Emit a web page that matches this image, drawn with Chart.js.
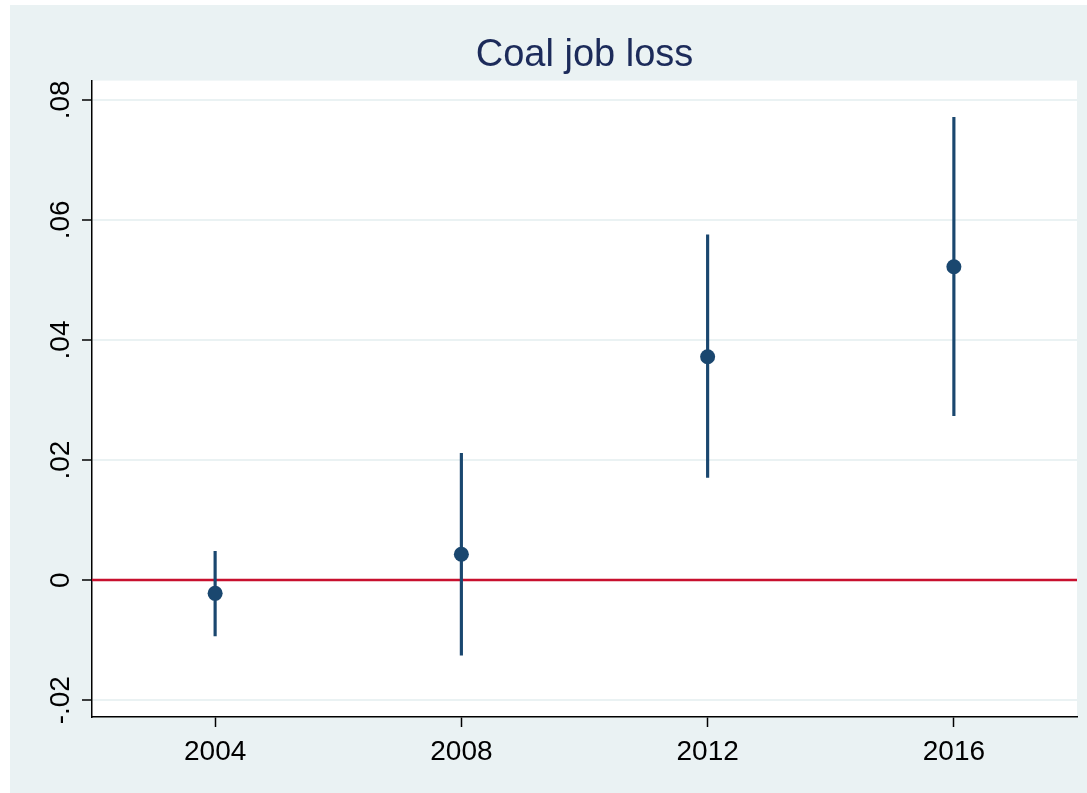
<!DOCTYPE html>
<html>
<head>
<meta charset="utf-8">
<script src="https://cdn.jsdelivr.net/npm/chart.js@4.4.1/dist/chart.umd.min.js"></script>
<style>
  html, body { margin: 0; padding: 0; background: #ffffff; }
  #frame {
    position: absolute; left: 10px; top: 5px;
    width: 1077px; height: 788px;
    background: #eaf2f3;
  }
</style>
</head>
<body>
<div id="frame"><canvas id="coefChart" width="1077" height="788"></canvas></div>
<script>
// coefficient estimates by election year, with 95% confidence bounds
var years = [2004, 2008, 2012, 2016];
var coef = [-0.0022, 0.0043, 0.0372, 0.0522];
var ciLow = [-0.0093, -0.0125, 0.0171, 0.0274];
var ciHigh = [0.0048, 0.0211, 0.0575, 0.0771];
var yTicks = [-0.02, 0, 0.02, 0.04, 0.06, 0.08];

var navy = '#1a476f';

// white plot region behind the grid
var plotBg = {
  id: 'plotBg',
  beforeDraw: function(chart) {
    var a = chart.chartArea, c = chart.ctx;
    c.save();
    c.fillStyle = '#ffffff';
    c.fillRect(a.left, a.top, a.right - a.left, a.bottom - a.top);
    c.restore();
  }
};

function fmt(v) {
  if (Math.abs(v) < 1e-9) return '0';
  var s = v.toFixed(2).replace(/0+$/, '');
  return s.replace('0.', '.');
}

var points = [], bars = [];
for (var i = 0; i < years.length; i++) {
  points.push({ x: years[i], y: coef[i] });
  bars.push({ x: years[i], y: [ciLow[i], ciHigh[i]] });
}

var ctx = document.getElementById('coefChart').getContext('2d');
new Chart(ctx, {
  type: 'scatter',
  data: {
    datasets: [{
      type: 'line',
      data: [{ x: 2002, y: 0 }, { x: 2018, y: 0 }],
      borderColor: '#c8102e',
      borderWidth: 2.5,
      pointRadius: 0,
      order: 3
    }, {
      type: 'bar',
      data: bars,
      backgroundColor: navy,
      borderWidth: 0,
      barThickness: 2.5,
      order: 2
    }, {
      type: 'scatter',
      data: points,
      backgroundColor: navy,
      borderColor: navy,
      pointRadius: 7.5,
      borderWidth: 0,
      order: 1
    }]
  },
  options: {
    responsive: false,
    animation: false,
    layout: { padding: { left: 0, right: 10, top: 0, bottom: 0 } },
    scales: {
      x: {
        type: 'linear',
        min: 2002,
        max: 2018,
        offset: false,
        afterBuildTicks: function(s) { s.ticks = years.map(function(v) { return { value: v }; }); },
        afterFit: function(s) { s.height = 76; },
        grid: { offset: false, drawOnChartArea: false, tickColor: '#000', tickLength: 10, tickWidth: 1.5 },
        border: { color: '#000', width: 1.5 },
        ticks: {
          color: '#000',
          padding: 8,
          font: { family: 'Liberation Sans, Arial, sans-serif', size: 28 },
          callback: function(v) { return String(v); }
        }
      },
      y: {
        min: -0.0228,
        max: 0.0832,
        afterBuildTicks: function(s) { s.ticks = yTicks.map(function(v) { return { value: v }; }); },
        afterFit: function(s) { s.width = 82; },
        grid: { color: '#eaf2f3', lineWidth: 2, tickColor: '#000', tickLength: 10, tickWidth: 1.5 },
        border: { color: '#000', width: 1.5 },
        ticks: {
          color: '#000',
          minRotation: 90,
          maxRotation: 90,
          crossAlign: 'center',
          padding: -3,
          font: { family: 'Liberation Sans, Arial, sans-serif', size: 28 },
          callback: function(v) { return fmt(v); }
        }
      }
    },
    plugins: {
      legend: { display: false },
      tooltip: { enabled: false },
      title: {
        display: true,
        text: 'Coal job loss',
        fullSize: false,
        color: '#1c2b5a',
        font: { family: 'Liberation Sans, Arial, sans-serif', size: 38, weight: 'normal' },
        padding: { top: 28, bottom: 2 }
      }
    }
  },
  plugins: [plotBg]
});
</script>
</body>
</html>
